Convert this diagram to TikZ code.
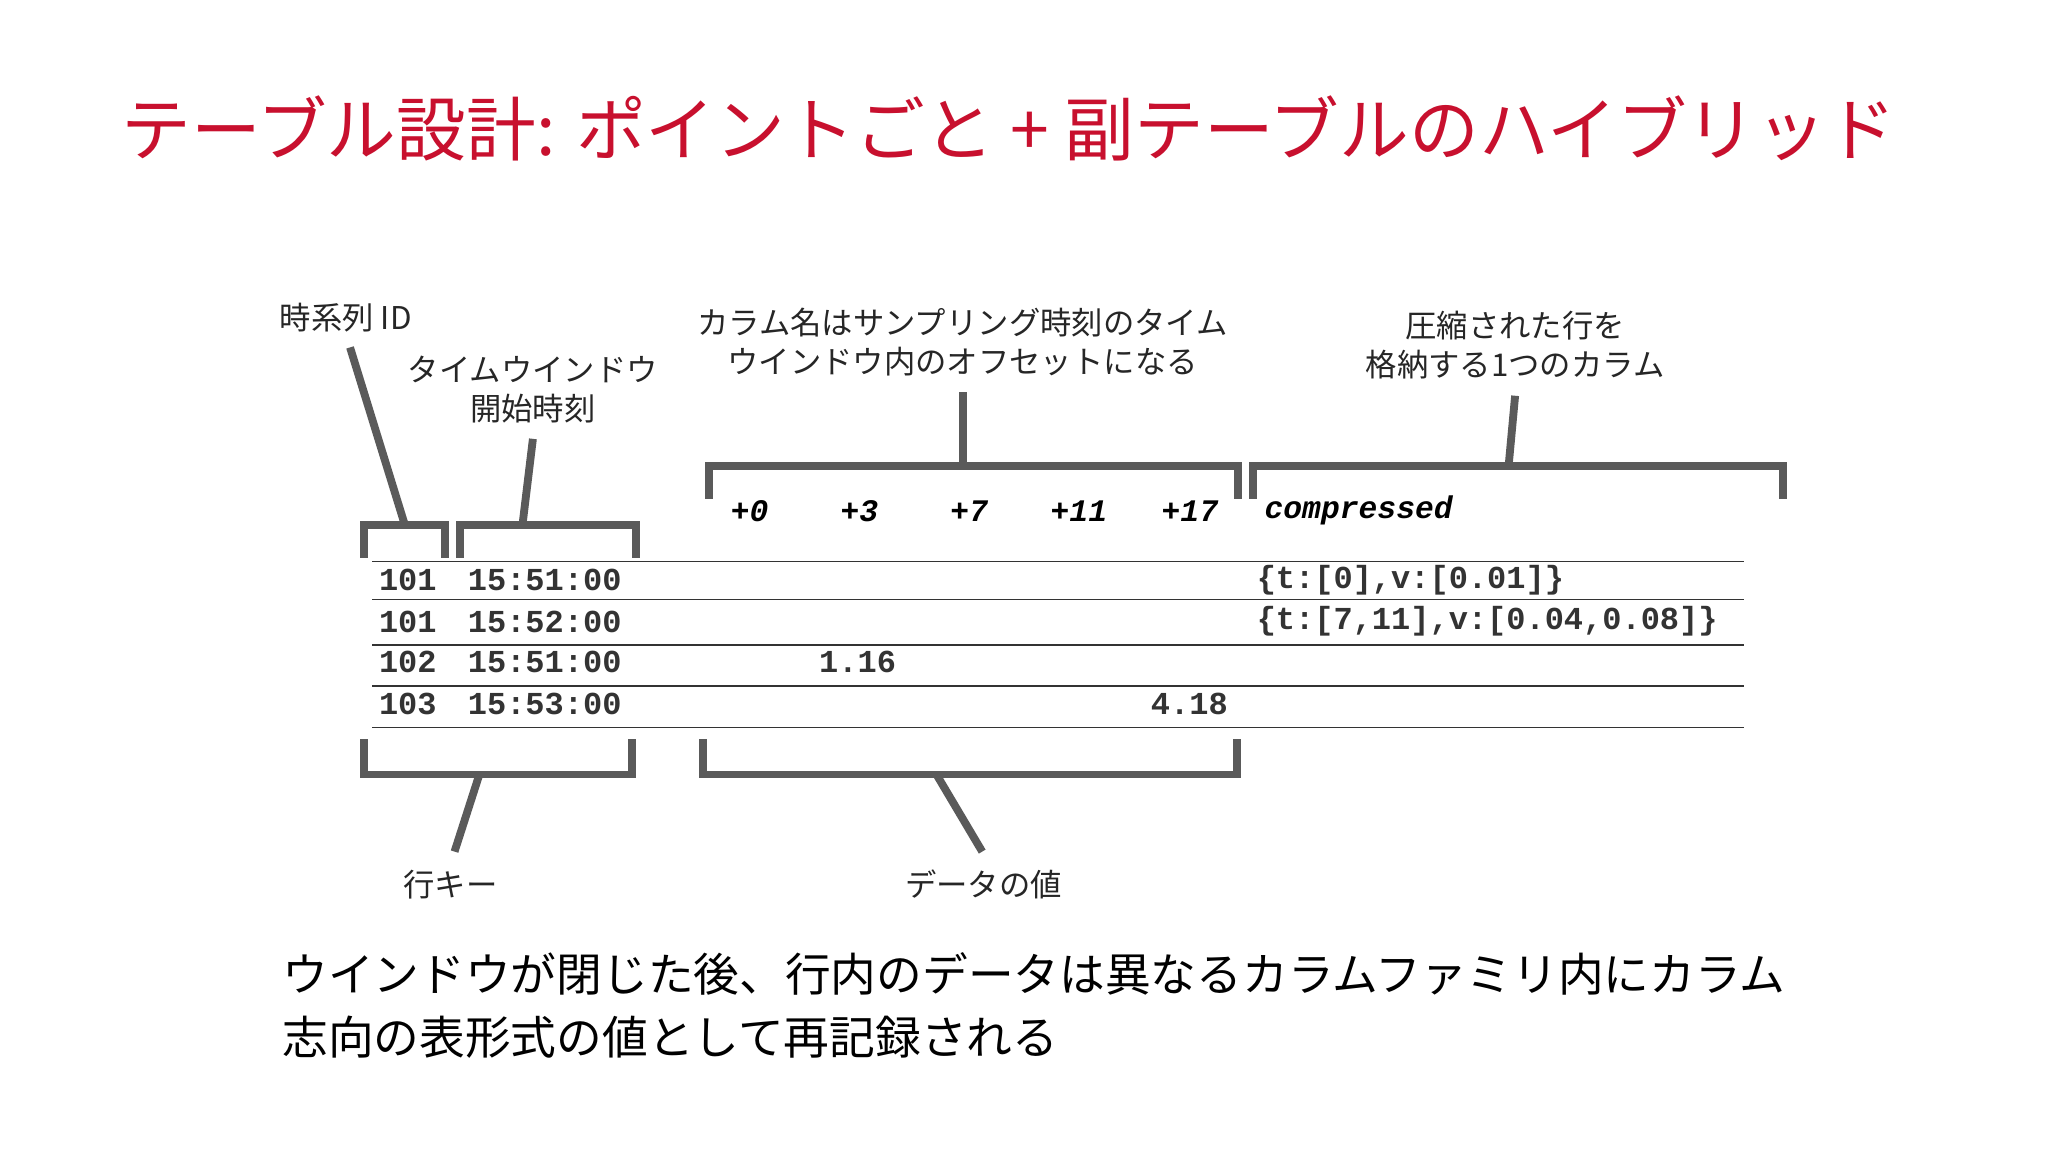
\documentclass[tikz,border=0pt]{standalone}
\usepackage{fontspec}
\setmainfont{Noto Sans CJK JP}
\newfontfamily\mono{Liberation Mono}
\definecolor{titlered}{HTML}{C8102E}
\definecolor{brk}{HTML}{5A5A5A}
\begin{document}
\begin{tikzpicture}[x=1pt,y=-1pt,
  lbl/.style={font=\fontsize{24}{30}\selectfont,text=black!85,align=center,inner sep=0},
  cell/.style={font=\mono\bfseries\fontsize{24.5}{24}\selectfont,anchor=west,inner sep=0,text=black!80},
  hdr/.style={font=\mono\bfseries\itshape\fontsize{24}{24}\selectfont,anchor=center,inner sep=0},
  brace/.style={brk,line width=6pt,line join=miter},
  lead/.style={brk,line width=6pt},
  rule/.style={black!80,line width=1.3pt}]
\useasboundingbox (0,0) rectangle (1568,882);
\fill[white] (0,0) rectangle (1568,882);
\node[anchor=west,text=titlered,font=\fontsize{53.4}{60}\selectfont,inner sep=0] (title) at (93,98) {テーブル設計: ポイントごと + 副テーブルのハイブリッド};
% labels
\node[lbl,anchor=west] (lid) at (214,243) {時系列 ID};
\node[lbl] (lwin) at (408,298) {タイムウインドウ\\開始時刻};
\node[lbl] (lcol) at (737,262) {カラム名はサンプリング時刻のタイム\\ウインドウ内のオフセットになる};
\node[lbl] (lcmp) at (1160,264) {圧縮された行を\\格納する1つのカラム};
\node[lbl] (lkey) at (345,677) {行キー};
\node[lbl] (ldat) at (753,677) {データの値};
% brackets
\draw[brace] (279,427) -- (279,402) -- (341,402) -- (341,427);
\draw[brace] (352,427) -- (352,402) -- (487,402) -- (487,427);
\draw[brace] (543,382) -- (543,357) -- (948,357) -- (948,382);
\draw[brace] (959,382) -- (959,357) -- (1365,357) -- (1365,382);
\draw[brace] (279,566) -- (279,593) -- (484,593) -- (484,566);
\draw[brace] (538,566) -- (538,593) -- (947,593) -- (947,566);
\coordinate (a1) at (310,402); \coordinate (a2) at (400,402);
\coordinate (a3) at (737,357); \coordinate (a4) at (1155,357);
\coordinate (a5) at (367,593); \coordinate (a6) at (717,593);
\draw[lead] (a1) -- (268,266);
\draw[lead] (a2) -- (408,336);
\draw[lead] (a3) -- (737,300);
\draw[lead] (a4) -- (1160,303);
\draw[lead] (a5) -- (348,652);
\draw[lead] (a6) -- (752,652);
% header
\node[hdr] (h0) at (574,391) {+0};
\node[hdr] (h3) at (658,391) {+3};
\node[hdr] (h7) at (742,391) {+7};
\node[hdr] (h11) at (826,391) {+11};
\node[hdr] (h17) at (911,391) {+17};
\node[hdr,anchor=west] (hc) at (968,391) {compressed};
% rules
\foreach \yy in {430,459,494,525,557} \draw[rule] (285,\yy) -- (1335,\yy);
% rows
\node[cell] (r1a) at (290,444) {101}; \node[cell] (r1b) at (358,444) {15:51:00};
\node[cell] (r1c) at (962,444) {\{t:[0],v:[0.01]\}};
\node[cell] (r2a) at (290,476) {101}; \node[cell] (r2b) at (358,476) {15:52:00};
\node[cell] (r2c) at (962,476) {\{t:[7,11],v:[0.04,0.08]\}};
\node[cell] (r3a) at (290,507) {102}; \node[cell] (r3b) at (358,507) {15:51:00};
\node[cell] (r3c) at (627,507) {1.16};
\node[cell] (r4a) at (290,539) {103}; \node[cell] (r4b) at (358,539) {15:53:00};
\node[cell] (r4c) at (881,539) {4.18};
% bottom text
\node[anchor=north west,align=left,font=\fontsize{35}{48}\selectfont,inner sep=0] (foot) at (216,729) {ウインドウが閉じた後、行内のデータは異なるカラムファミリ内にカラム\\志向の表形式の値として再記録される};
\end{tikzpicture}
\end{document}
